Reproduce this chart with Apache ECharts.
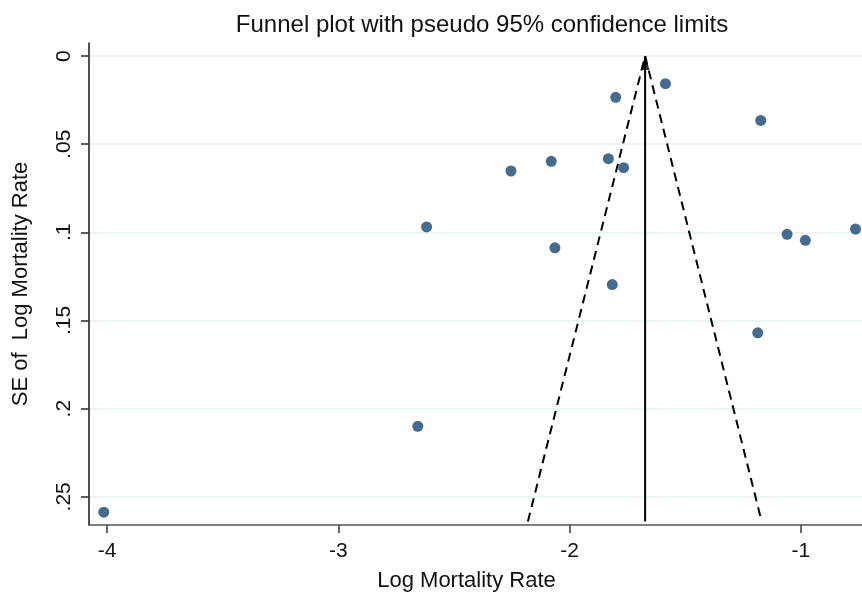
<!DOCTYPE html>
<html>
<head>
<meta charset="utf-8">
<script src="https://cdn.jsdelivr.net/npm/echarts@6/dist/echarts.min.js"></script>
<style>
  html, body { margin: 0; padding: 0; background: #ffffff; }
  #chart { width: 862px; height: 597px; }
</style>
</head>
<body>
<div id="chart"></div>
<script>
// Study estimates: log mortality rate and its standard error
const logRate = [-1.800, -1.585, -1.173, -2.253, -2.079, -1.832, -1.766, -2.618,
                 -2.063, -1.815, -1.059, -0.980, -0.763, -1.186, -2.656, -4.014];
const seLogRate = [0.0234, 0.0157, 0.0365, 0.0652, 0.0597, 0.0582, 0.0633, 0.0969,
                   0.1088, 0.1296, 0.1011, 0.1045, 0.0981, 0.157, 0.210, 0.2587];

// Pooled estimate and pseudo 95% limits (x, se) end points
const pooledLine = [[-1.673, 0.264], [-1.673, 0]];
const limitX = [-2.180, -1.673, -1.169];
const limitSE = [0.264, 0, 0.264];

// Tick values
const xTicks = [-4, -3, -2, -1];
const yTicks = [0, 0.05, 0.1, 0.15, 0.2, 0.25];

const points = logRate.map((x, i) => [x, seLogRate[i]]);
const limits = limitX.map((x, i) => [x, limitSE[i]]);

const font = '"Liberation Sans", Arial, sans-serif';
const chart = echarts.init(document.getElementById('chart'), null, { renderer: 'canvas' });

chart.setOption({
  animation: false,
  backgroundColor: '#ffffff',
  title: {
    text: 'Funnel plot with pseudo 95% confidence limits',
    left: 477, top: 8, textAlign: 'center',
    textStyle: { fontFamily: font, fontSize: 24, fontWeight: 'normal', color: '#111' }
  },
  grid: { left: 89, top: 43, right: 0, bottom: 72, containLabel: false },
  xAxis: {
    type: 'value',
    min: -4.078, max: -0.735,
    name: 'Log Mortality Rate',
    nameLocation: 'middle', nameGap: 45,
    nameTextStyle: { fontFamily: font, fontSize: 22, color: '#111', padding: [0, 18, 0, 0] },
    axisLine: { show: true, onZero: false, lineStyle: { color: '#555', width: 1.6 } },
    axisTick: { show: true, inside: false, length: 8, customValues: xTicks, lineStyle: { color: '#444', width: 1.6 } },
    axisLabel: { customValues: xTicks, margin: 16, fontFamily: font, fontSize: 21, color: '#111' },
    splitLine: { show: false }
  },
  yAxis: {
    type: 'value',
    inverse: true,
    min: -0.0074, max: 0.266,
    name: 'SE of  Log Mortality Rate',
    nameLocation: 'middle', nameGap: 57, nameRotate: 90,
    nameTextStyle: { fontFamily: font, fontSize: 22, color: '#111' },
    axisLine: { show: true, onZero: false, lineStyle: { color: '#222', width: 1.6 } },
    axisTick: { show: true, inside: false, length: 8, customValues: yTicks, lineStyle: { color: '#333', width: 1.6 } },
    axisLabel: {
      customValues: yTicks, rotate: 90, margin: 14,
      fontFamily: font, fontSize: 21, color: '#111',
      formatter: v => (v === 0 ? '0' : String(v).replace(/^0\./, '.'))
    },
    splitLine: { show: true, lineStyle: { color: '#e6eff1', width: 1.6 } }
  },
  series: [
    {
      name: 'limits',
      type: 'line',
      data: limits,
      symbol: 'none',
      silent: true,
      lineStyle: { color: '#000', width: 2, type: [9, 6] },
      z: 3
    },
    {
      name: 'pooled',
      type: 'line',
      data: pooledLine,
      symbol: 'none',
      silent: true,
      lineStyle: { color: '#000', width: 2 },
      z: 3
    },
    {
      // arrowhead on the pooled-estimate line, tip at its top end
      name: 'pooledHead',
      type: 'scatter',
      data: [pooledLine[1]],
      symbol: 'triangle',
      symbolSize: [9, 14],
      symbolOffset: [0, '50%'],
      clip: false,
      silent: true,
      itemStyle: { color: '#000' },
      z: 3
    },
    {
      name: 'studies',
      type: 'scatter',
      data: points,
      symbol: 'circle',
      symbolSize: 11,
      clip: false,
      itemStyle: { color: '#184670' },
      z: 4
    }
  ]
});
</script>
</body>
</html>
